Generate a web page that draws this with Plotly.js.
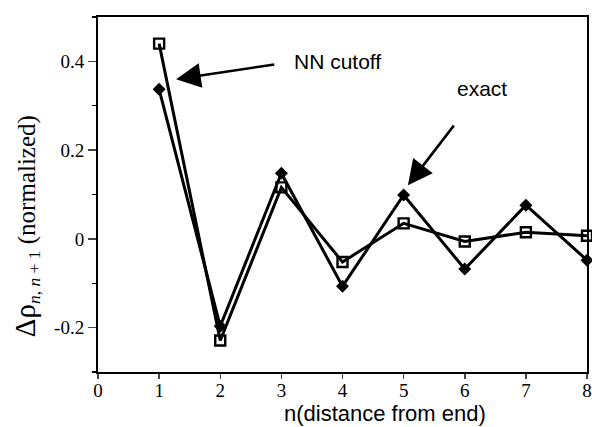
<!DOCTYPE html>
<html>
<head>
<meta charset="utf-8">
<script src="https://cdn.plot.ly/plotly-3.0.1.min.js"></script>
<style>html,body{margin:0;padding:0;background:#fff;}</style>
</head>
<body>
<div id="chart" style="width:592px;height:427px;"></div>
<script>
// Data
const n = [1, 2, 3, 4, 5, 6, 7, 8];
const nnCutoff = [0.44, -0.229, 0.116, -0.052, 0.035, -0.006, 0.015, 0.007];
const exact = [0.337, -0.197, 0.148, -0.107, 0.099, -0.068, 0.076, -0.048];
const xTickVals = [0, 1, 2, 3, 4, 5, 6, 7, 8];
const yTickVals = [-0.2, 0, 0.2, 0.4];
const yTickText = ['-0.2', '0', '0.2', '0.4'];

const serif = 'Liberation Serif, Times New Roman, serif';
const sans = 'Liberation Sans, Arial, sans-serif';

const traces = [
  {
    x: n, y: nnCutoff, type: 'scatter', mode: 'lines+markers', name: 'NN cutoff',
    line: {color: '#000', width: 3},
    marker: {symbol: 'square-open', size: 10, color: '#000', line: {width: 2.4, color: '#000'}},
    cliponaxis: false
  },
  {
    x: n, y: exact, type: 'scatter', mode: 'lines+markers', name: 'exact',
    line: {color: '#000', width: 3},
    marker: {symbol: 'diamond', size: 10, color: '#000', line: {width: 0}},
    cliponaxis: false
  }
];

const layout = {
  width: 592, height: 427,
  margin: {l: 98, r: 5, t: 17, b: 55},
  paper_bgcolor: '#fff', plot_bgcolor: '#fff',
  showlegend: false,
  xaxis: {
    range: [0, 8], tickvals: xTickVals, ticks: 'outside', ticklen: 5, tickwidth: 1.5,
    ticklabelstandoff: -5,
    showline: true, linewidth: 2, linecolor: '#000', mirror: true,
    showgrid: false, zeroline: false,
    tickfont: {family: serif, size: 19, color: '#000'}
  },
  yaxis: {
    range: [-0.3, 0.5], tickvals: yTickVals, ticktext: yTickText, ticks: 'outside', ticklen: 8, tickwidth: 1.5,
    minor: {dtick: 0.1, tick0: 0, ticks: 'outside', ticklen: 4, tickwidth: 1.2, tickcolor: '#000', showgrid: false},
    showline: true, linewidth: 2, linecolor: '#000', mirror: true,
    showgrid: false, zeroline: false,
    tickfont: {family: serif, size: 19, color: '#000'}
  },
  annotations: [
    {text: 'NN cutoff', xref: 'x', yref: 'y', x: 1.277, y: 0.36, axref: 'x', ayref: 'y', ax: 3.175, ay: 0.399,
     xanchor: 'left', yanchor: 'middle',
     showarrow: true, arrowhead: 2, arrowsize: 1.9, arrowwidth: 2.6, arrowcolor: '#000', startstandoff: 18,
     font: {family: sans, size: 21, color: '#000'}},
    {text: 'exact', xref: 'x', yref: 'y', x: 5.07, y: 0.121, axref: 'x', ayref: 'y', ax: 6.285, ay: 0.338,
     xanchor: 'center', yanchor: 'middle',
     showarrow: true, arrowhead: 2, arrowsize: 1.9, arrowwidth: 2.6, arrowcolor: '#000', startstandoff: 30,
     font: {family: sans, size: 21, color: '#000'}},
    {text: 'n(distance from end)', xref: 'paper', yref: 'paper', x: 0.587, y: -0.118,
     xanchor: 'center', yanchor: 'middle', showarrow: false,
     font: {family: sans, size: 22, color: '#000'}},
    {text: '<span style="font-size:29px">Δρ</span><sub><i>n</i>, <i>n</i> + 1</sub> (normalized)',
     xref: 'paper', yref: 'paper', x: -0.147, y: 0.411, xanchor: 'center', yanchor: 'middle',
     textangle: -90, showarrow: false,
     font: {family: serif, size: 25, color: '#000'}}
  ]
};

Plotly.newPlot('chart', traces, layout, {displayModeBar: false, staticPlot: true});
</script>
</body>
</html>
